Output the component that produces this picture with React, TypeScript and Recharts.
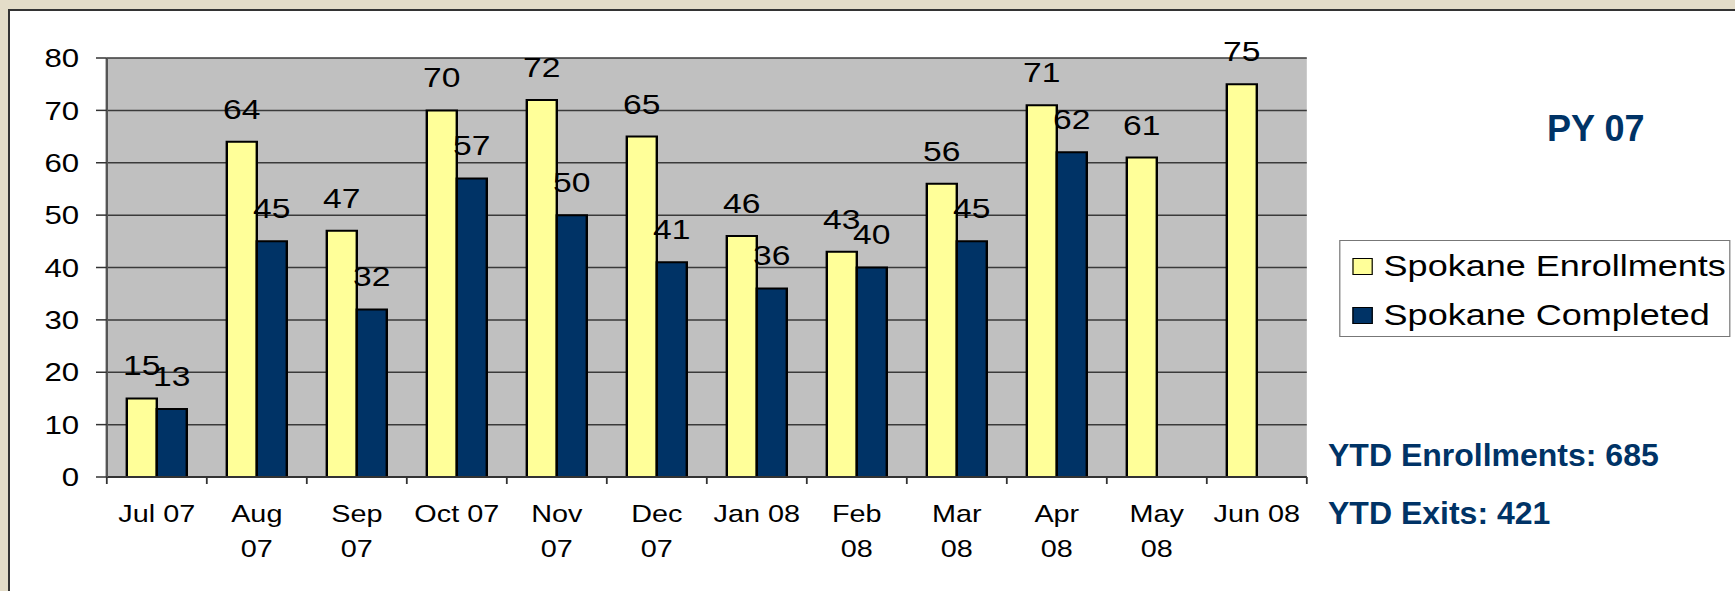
import React from "react";
import { BarChart, Bar, XAxis, YAxis, CartesianGrid, LabelList, Legend } from "recharts";

const FONT = '"Liberation Sans", Arial, sans-serif';
const NAVY = "#003366";
const STRETCH = 1.2; // the original picture is stretched sideways

const months = ["Jul 07", "Aug 07", "Sep 07", "Oct 07", "Nov 07", "Dec 07", "Jan 08", "Feb 08", "Mar 08", "Apr 08", "May 08", "Jun 08"];
const tickLabels = ["Jul 07", "Aug\n07", "Sep\n07", "Oct 07", "Nov\n07", "Dec\n07", "Jan 08", "Feb\n08", "Mar\n08", "Apr\n08", "May\n08", "Jun 08"];
const enrollments = [15, 64, 47, 70, 72, 65, 46, 43, 56, 71, 61, 75];
const completed = [13, 45, 32, 57, 50, 41, 36, 40, 45, 62, null, null];
const seriesNames = ["Spokane Enrollments", "Spokane Completed"];
const yTicks = [0, 10, 20, 30, 40, 50, 60, 70, 80];

const data = months.map((m, i) => ({
    month: m,
    enrollments: enrollments[i],
    completed: completed[i],
}));

const MonthTick = (props: any) => {
    const { x, y, payload, index, visibleTicksCount } = props;
    const half = payload?.offset ?? 0;
    const i = months.indexOf(payload.value);
    const lines = (tickLabels[i] ?? String(payload.value)).split("\n");
    return (
        <g>
            <line x1={x - half} x2={x - half} y1={y} y2={y + 7} stroke="#333" strokeWidth={1.5} />
            {index === visibleTicksCount - 1 && (
                <line x1={x + half} x2={x + half} y1={y} y2={y + 7} stroke="#333" strokeWidth={1.5} />
            )}
            <text x={x} y={y + 45} textAnchor="middle" fontSize={24} fill="#000" fontFamily={FONT}>
                {lines.map((l, k) => (
                    <tspan key={k} x={x} dy={k === 0 ? 0 : 35}>
                        {l}
                    </tspan>
                ))}
            </text>
        </g>
    );
};

const LegendBox = ({ payload }: any) => {
    const items = [...(payload || [])].sort(
        (a: any, b: any) => seriesNames.indexOf(a.value) - seriesNames.indexOf(b.value)
    );
    return (
        <div
            style={{
                position: "relative",
                width: 326,
                height: 97,
                boxSizing: "border-box",
                border: "1.5px solid #777",
                background: "#fff",
                fontFamily: FONT,
                fontSize: 30,
                color: "#000",
            }}
        >
            {items.map((p: any, i: number) => (
                <div
                    key={i}
                    style={{
                        position: "absolute",
                        left: 10,
                        top: i === 0 ? 25 : 74,
                        transform: "translateY(-50%)",
                        display: "flex",
                        alignItems: "center",
                        lineHeight: 1,
                        whiteSpace: "nowrap",
                    }}
                >
                    <span
                        style={{
                            display: "inline-block",
                            width: 17,
                            height: 17,
                            boxSizing: "border-box",
                            border: "1.5px solid #000",
                            background: p.color,
                            marginRight: 9,
                        }}
                    />
                    <span>{p.value}</span>
                </div>
            ))}
        </div>
    );
};

export default function App() {
    return (
        <div
            style={{
                position: "absolute",
                left: 0,
                top: 0,
                width: 1735,
                height: 591,
                overflow: "hidden",
                background: "#E3DCC8",
            }}
        >
            {/* white panel with dark top/left border */}
            <div
                style={{
                    position: "absolute",
                    left: 8,
                    top: 9,
                    width: 1800,
                    height: 700,
                    background: "#fff",
                    borderLeft: "2px solid #333",
                    borderTop: "2px solid #333",
                }}
            />
            <div
                style={{
                    position: "absolute",
                    left: 0,
                    top: 0,
                    width: 1735 / STRETCH,
                    height: 591,
                    transform: `scaleX(${STRETCH})`,
                    transformOrigin: "0 0",
                }}
            >
                <BarChart
                    width={1446}
                    height={591}
                    data={data}
                    margin={{ top: 58, right: 357, bottom: 34, left: 29 }}
                    barCategoryGap="20%"
                    barGap={0}
                >
                    <CartesianGrid vertical={false} fill="#C0C0C0" stroke="#3a3a3a" strokeWidth={1.5} fillOpacity={1} />
                    <XAxis
                        dataKey="month"
                        height={80}
                        interval={0}
                        axisLine={{ stroke: "#333", strokeWidth: 2 }}
                        tickLine={false}
                        tickSize={0}
                        tickMargin={0}
                        tick={<MonthTick />}
                    />
                    <YAxis
                        width={60}
                        domain={[0, 80]}
                        ticks={yTicks}
                        interval={0}
                        tickSize={9}
                        tickMargin={14}
                        axisLine={{ stroke: "#555", strokeWidth: 2 }}
                        tickLine={{ stroke: "#333", strokeWidth: 1.5 }}
                        tick={{ fontSize: 26, fill: "#000", fontFamily: FONT }}
                    />
                    <YAxis
                        yAxisId="r"
                        orientation="right"
                        width={0}
                        domain={[0, 80]}
                        tick={false}
                        tickLine={false}
                        axisLine={{ stroke: "#888", strokeWidth: 2.5 }}
                    />
                    <Legend
                        layout="horizontal"
                        verticalAlign="middle"
                        align="center"
                        content={<LegendBox />}
                        wrapperStyle={{ left: 1116, top: 240, right: "auto", bottom: "auto", width: 326, height: 97 }}
                    />
                    <Bar dataKey="enrollments" name={seriesNames[0]} fill="#FFFF99" stroke="#000" strokeWidth={2} isAnimationActive={false}>
                        <LabelList dataKey="enrollments" position="top" offset={23} fontSize={28} fill="#000" fontFamily={FONT} />
                    </Bar>
                    <Bar dataKey="completed" name={seriesNames[1]} fill={NAVY} stroke="#000" strokeWidth={2} isAnimationActive={false}>
                        <LabelList dataKey="completed" position="top" offset={23} fontSize={28} fill="#000" fontFamily={FONT} />
                    </Bar>
                </BarChart>
            </div>
            <svg width={1735} height={591} style={{ position: "absolute", left: 0, top: 0, pointerEvents: "none" }}>
                <text x={1547} y={141} fontSize={36} fontWeight="bold" fill={NAVY} fontFamily={FONT}>
                    PY 07
                </text>
                <text x={1328} y={466} fontSize={32} fontWeight="bold" fill={NAVY} fontFamily={FONT}>
                    YTD Enrollments: 685
                </text>
                <text x={1328} y={524} fontSize={32} fontWeight="bold" fill={NAVY} fontFamily={FONT}>
                    YTD Exits: 421
                </text>
            </svg>
        </div>
    );
}
